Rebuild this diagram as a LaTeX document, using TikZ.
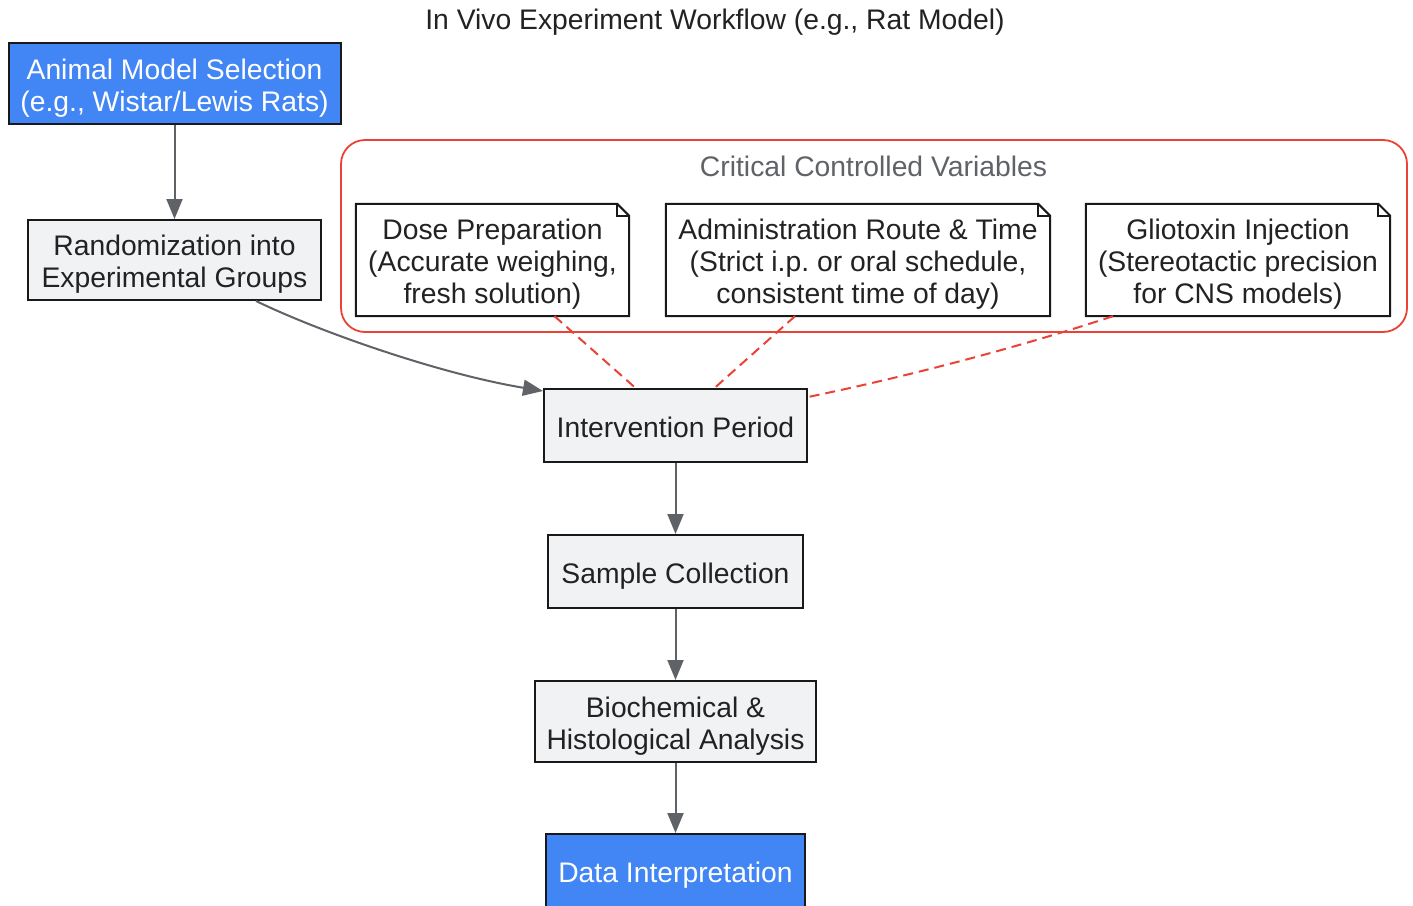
\documentclass[tikz,border=0pt]{standalone}
\usepackage{fontspec}
\setmainfont{Liberation Sans}
\usetikzlibrary{arrows.meta}
\definecolor{gblue}{HTML}{4285F4}
\definecolor{lgray}{HTML}{F1F2F4}
\definecolor{agray}{HTML}{5F6368}
\definecolor{gred}{HTML}{EA4335}
\definecolor{tdark}{HTML}{222222}
\newcommand{\topstrut}{\rule{0pt}{30pt}}
\newcommand{\noteoutline}[1]{%
  \draw[noteline] (#1.south west) -- (#1.north west) -- ([xshift=-12pt]#1.north east) -- ([yshift=-12pt]#1.north east) -- (#1.south east) -- cycle;
  \draw[noteline] ([xshift=-12pt]#1.north east) |- ([yshift=-12pt]#1.north east);}
\tikzset{
  every node/.style={font=\fontsize{28.3}{32}\selectfont, text=tdark},
  struts/.style={execute at begin node={\topstrut}, execute at end node={\rule[-7pt]{0pt}{7pt}}},
  procbox/.style={rectangle, draw=black!90, line width=2pt, fill=lgray, align=center, inner sep=0pt, struts},
  keybox/.style={rectangle, draw=black!90, line width=2pt, fill=gblue, text=white, align=center, inner sep=0pt, struts},
  notebox/.style={rectangle, draw=none, fill=white, align=center, inner sep=0pt, minimum height=112pt, struts},
  noteline/.style={draw=black!90, line width=2pt, line join=miter},
  flow/.style={draw=agray, line width=2pt, -{Triangle[length=20pt,width=16pt]}},
  link/.style={draw=gred, line width=2pt, dash pattern=on 10pt off 6pt},
  cluster/.style={draw=gred, line width=1.8pt, rounded corners=24pt}
}
\begin{document}
\begin{tikzpicture}[x=1pt,y=-1pt]
\useasboundingbox (0,0) rectangle (1413,905);
\fill[white] (0,0) rectangle (1413,905);
\begin{scope}
\clip (0,0) rectangle (1413,905);

\node (title) at (715,22) {In Vivo Experiment Workflow (e.g., Rat Model)};

\draw[cluster] (341,140) rectangle (1407,332);
\node[text=agray] (clabel) at (873.5,166) {Critical Controlled Variables};

\node[keybox, minimum width=332pt, minimum height=81pt] (animal) at (174.5,83.5) {\topstrut Animal Model Selection\\(e.g., Wistar/Lewis Rats)};
\node[procbox, minimum width=293pt, minimum height=80pt] (random) at (174.5,260) {\topstrut Randomization into\\Experimental Groups};

\node[notebox, minimum width=273pt] (dose) at (492.5,260) {\topstrut Dose Preparation\\(Accurate weighing,\\fresh solution)};
\node[notebox, minimum width=384pt] (admin) at (858,260) {\topstrut Administration Route \& Time\\(Strict i.p.\ or oral schedule,\\consistent time of day)};
\node[notebox, minimum width=304pt] (glio) at (1238,260) {\topstrut Gliotoxin Injection\\(Stereotactic precision\\for CNS models)};
\noteoutline{dose}
\noteoutline{admin}
\noteoutline{glio}

\node[procbox, minimum width=263pt, minimum height=73pt] (interv) at (675.5,425.5) {Intervention Period};
\node[procbox, minimum width=255pt, minimum height=73pt] (sample) at (675.5,571.5) {Sample Collection};
\node[procbox, minimum width=281pt, minimum height=81pt] (bio) at (675.5,721.5) {\topstrut Biochemical \&\\Histological Analysis};
\node[keybox, minimum width=259pt, minimum height=73pt] (data) at (675.5,870.5) {Data Interpretation};

\coordinate (rstart) at ([xshift=-66pt]random.south east);
\coordinate (rend) at ([yshift=-3pt]interv.north west);
\draw[flow] (animal) -- (random);
\draw[flow] (rstart) .. controls (320,332) and (440,374) .. (rend);
\draw[flow] (interv) -- (sample);
\draw[flow] (sample) -- (bio);
\draw[flow] (bio) -- (data);

\coordinate (dstart) at ([xshift=62pt]dose.south);
\draw[link] (dstart) -- ([xshift=-40pt]interv.north);
\draw[link] ([xshift=-63pt]admin.south) -- ([xshift=39pt]interv.north);
\draw[link] ([xshift=-125pt]glio.south) .. controls (1010,350) and (900,378) .. ([yshift=-9pt]interv.north east);
\end{scope}
\end{tikzpicture}
\end{document}
